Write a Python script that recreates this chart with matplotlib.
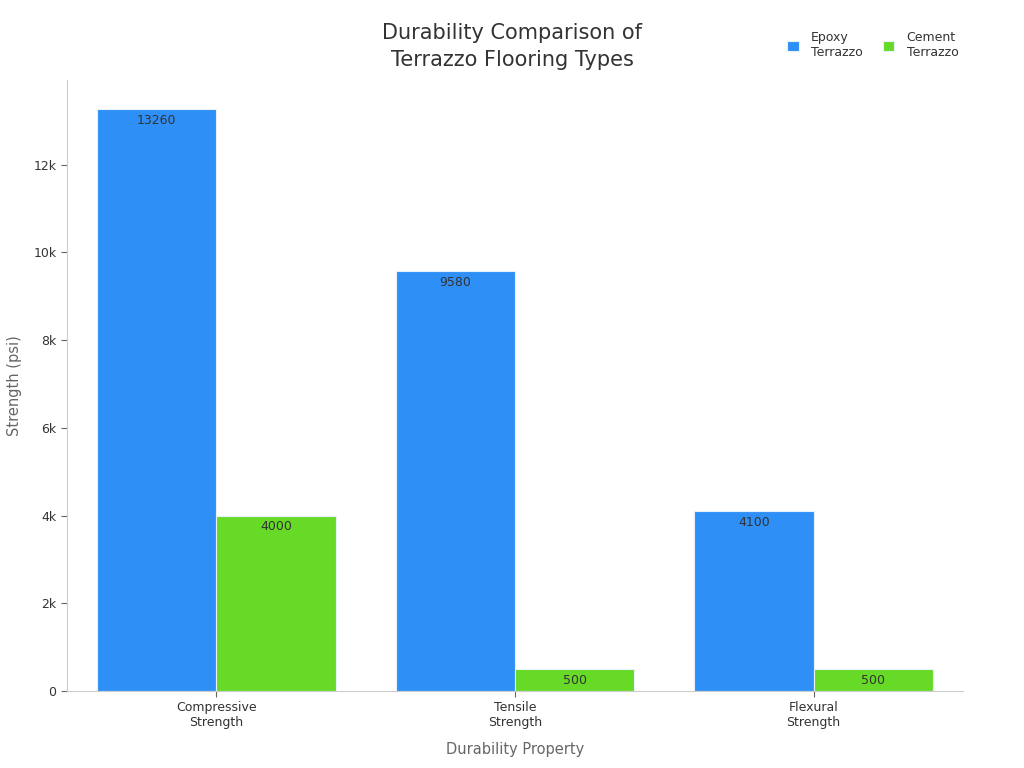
import matplotlib
matplotlib.use('Agg')
import matplotlib.pyplot as plt
import numpy as np
from matplotlib.ticker import FuncFormatter

categories = ['Compressive\nStrength', 'Tensile\nStrength', 'Flexural\nStrength']
series_names = ['Epoxy\nTerrazzo', 'Cement\nTerrazzo']
epoxy = [13260, 9580, 4100]
cement = [4000, 500, 500]
colors = ['#2E8FF7', '#66DA26']

plt.rcParams['font.family'] = 'DejaVu Sans'

fig = plt.figure(figsize=(10.24, 7.68), dpi=100)
ax = fig.add_axes([0.0654, 0.1003, 0.875, 0.7955])

x = np.arange(len(categories))
w = 0.4
for vals, off, col, name in [(epoxy, -w / 2, colors[0], series_names[0]),
                             (cement, w / 2, colors[1], series_names[1])]:
    bars = ax.bar(x + off, vals, width=w, color=col, edgecolor='#e8f0f8',
                  linewidth=0.8, label=name)
    for b, v in zip(bars, vals):
        ax.text(b.get_x() + b.get_width() / 2, v - 110, str(v),
                ha='center', va='top', fontsize=9, color='#333333')

ax.set_xlim(-0.5, 2.5)
ax.set_ylim(0, 13930)
ax.set_yticks(np.arange(0, 13000, 2000))
ax.yaxis.set_major_formatter(FuncFormatter(lambda v, p: '0' if v == 0 else f'{int(v/1000)}k'))
ax.set_xticks(x)
ax.set_xticklabels(categories)

for s in ['top', 'right']:
    ax.spines[s].set_visible(False)
for s in ['left', 'bottom']:
    ax.spines[s].set_color('#cccccc')
ax.tick_params(axis='both', colors='#666666', labelcolor='#333333', labelsize=9, length=4)

ax.set_xlabel('Durability Property', fontsize=10.5, color='#666666', labelpad=9)
ax.set_ylabel('Strength (psi)', fontsize=10.5, color='#666666', labelpad=8)

fig.suptitle('Durability Comparison of\nTerrazzo Flooring Types', x=0.5, y=0.97,
             fontsize=15, color='#333333', linespacing=1.45)

fig.legend(loc='upper right', bbox_to_anchor=(0.947, 0.974), ncol=2, frameon=False,
           fontsize=9, handlelength=0.9, handleheight=0.9, columnspacing=1.6,
           handletextpad=1.0, labelcolor='#333333')

fig.savefig('out.png', dpi=100)
